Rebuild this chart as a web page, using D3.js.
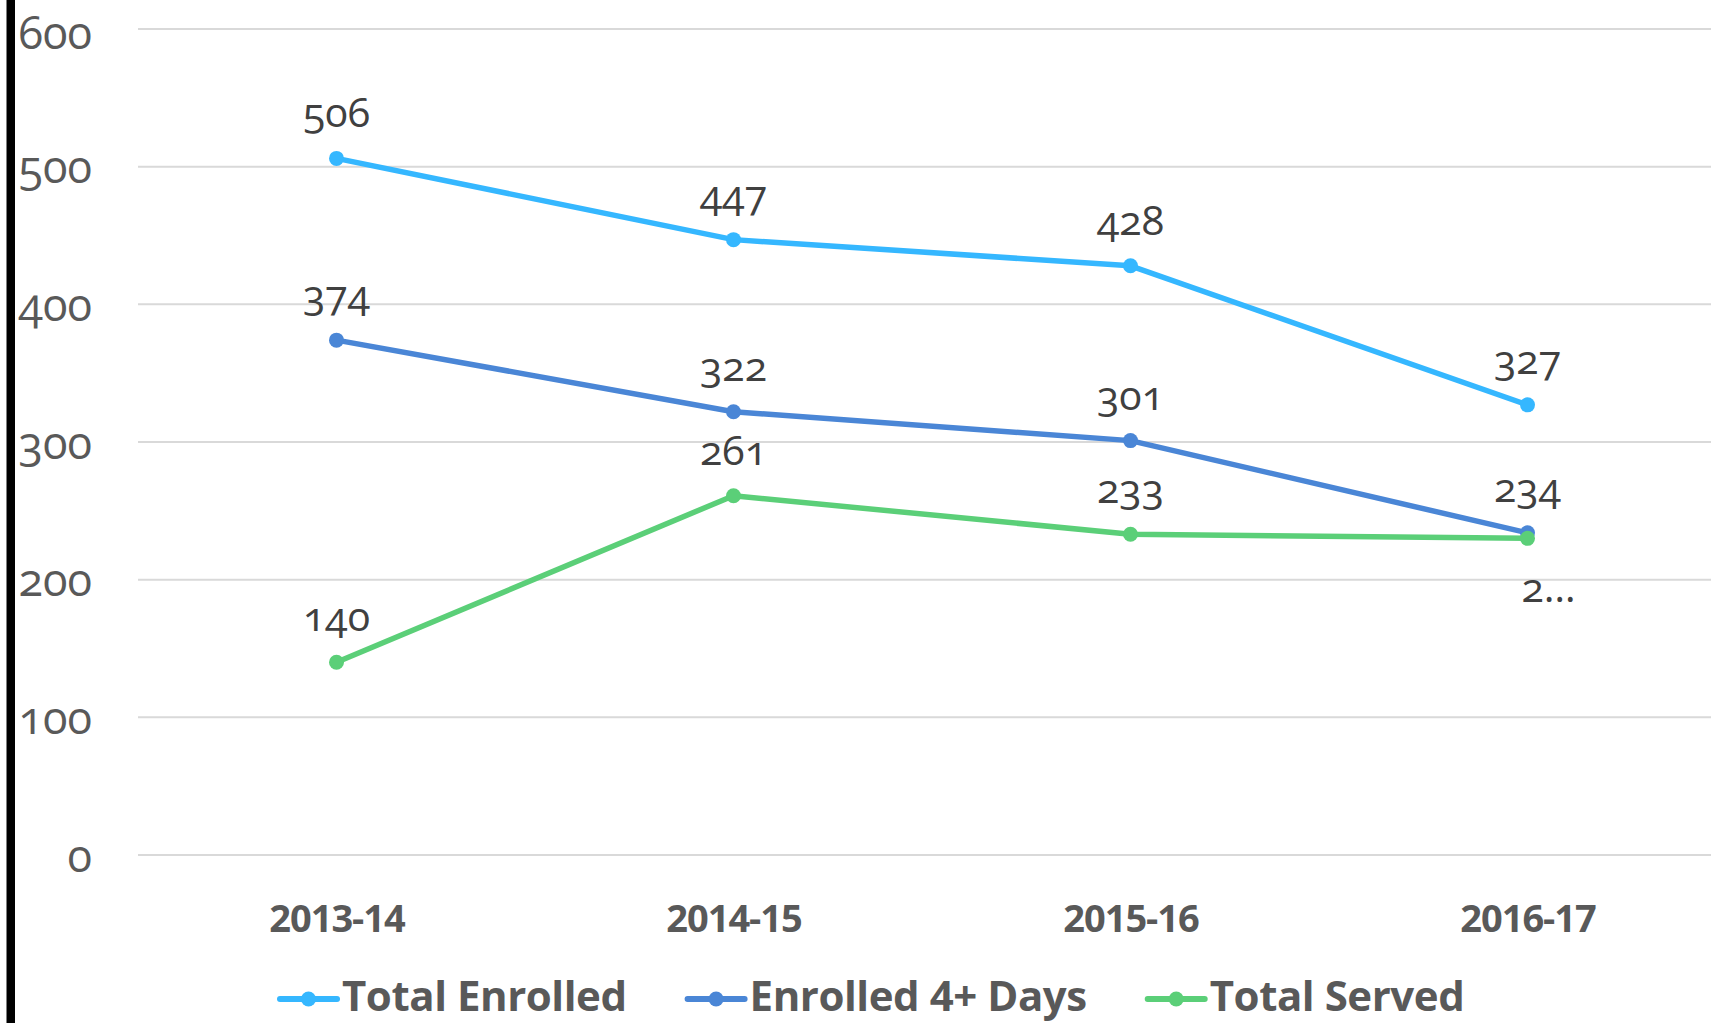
<!DOCTYPE html>
<html>
<head>
<meta charset="utf-8">
<script src="https://cdn.jsdelivr.net/npm/d3@7"></script>
<style>
  html, body { margin: 0; padding: 0; background: #fff; overflow: hidden; }
  svg { display: block; }
</style>
</head>
<body>
<svg id="chart" width="1711" height="1023"></svg>
<script>
// ---- data ----
const categories = ["2013-14", "2014-15", "2015-16", "2016-17"];
const seriesNames = ["Total Enrolled", "Enrolled 4+ Days", "Total Served"];
const totalEnrolled = [506, 447, 428, 327];
const enrolled4Days = [374, 322, 301, 234];
const totalServed = [140, 261, 233, 230];
const yTicks = [0, 100, 200, 300, 400, 500, 600];
const seriesColors = ["#35B7FF", "#4A86D6", "#5BCF78"];

const seriesValues = [totalEnrolled, enrolled4Days, totalServed];

// ---- layout ----
const W = 1711, H = 1023;
const plot = { left: 138, right: 1726, top: 29, bottom: 855 };

const svg = d3.select("#chart");

const x = d3.scalePoint().domain(categories).range([plot.left, plot.right]).padding(0.5);
const y = d3.scaleLinear().domain([0, 600]).range([plot.bottom, plot.top]);

// left black bar
svg.append("rect").attr("x", 6.5).attr("y", 0).attr("width", 8.5).attr("height", H).attr("fill", "#000");

// gridlines
svg.append("g").selectAll("line").data(yTicks).join("line")
  .attr("x1", plot.left).attr("x2", W)
  .attr("y1", d => y(d)).attr("y2", d => y(d))
  .attr("stroke", "#d9d9d9").attr("stroke-width", 2);

// y axis labels
const tickFs = 45;
const yAxis = d3.axisLeft(y).tickValues(yTicks).tickSize(0).tickPadding(0);
const gy = svg.append("g").attr("transform", "translate(92,0)").call(yAxis);
gy.select(".domain").remove();
gy.selectAll("text")
  .attr("font-family", "'Open Sans', sans-serif")
  .attr("font-size", tickFs)
  .attr("fill", "#595959")
  .attr("dy", d => Math.max(0.36 * tickFs, 1.075 * tickFs - y(d)))
  .style("font-variant-numeric", "oldstyle-nums");

// x axis labels
const xAxis = d3.axisBottom(x).tickSize(0).tickPadding(0);
const gx = svg.append("g").attr("transform", "translate(0,932)").call(xAxis);
gx.select(".domain").remove();
gx.selectAll("text")
  .attr("font-family", "'Open Sans', sans-serif")
  .attr("font-weight", 700)
  .attr("font-size", 38)
  .attr("fill", "#595959")
  .attr("dy", 0)
  .attr("letter-spacing", -1);

// lines
const line = d3.line().x((d, i) => x(categories[i])).y(d => y(d));
seriesValues.forEach((vals, si) => {
  const g = svg.append("g");
  g.append("path").datum(vals)
    .attr("d", line).attr("fill", "none")
    .attr("stroke", seriesColors[si]).attr("stroke-width", 5.5)
    .attr("stroke-linejoin", "round").attr("stroke-linecap", "round");
  g.selectAll("circle").data(vals).join("circle")
    .attr("cx", (d, i) => x(categories[i])).attr("cy", d => y(d))
    .attr("r", 7.5).attr("fill", seriesColors[si]);
});

// data labels
seriesValues.forEach((vals, si) => {
  svg.append("g").selectAll("text").data(vals).join("text")
    .attr("x", (d, i) => x(categories[i]))
    .attr("y", (d, i) => (si === 2 && i === 3) ? y(d) + 64 : y(d) - 31)
    .attr("text-anchor", (d, i) => (si === 2 && i === 3) ? "start" : "middle")
    .attr("dx", (d, i) => (si === 2 && i === 3) ? -6 : 0)
    .attr("font-family", "'Open Sans', sans-serif")
    .attr("font-size", 41)
    .attr("fill", "#404040")
    .style("font-variant-numeric", "oldstyle-nums")
    .text((d, i) => (si === 2 && i === 3) ? String(d)[0] + "…" : d);
});

// legend
const legend = svg.append("g").attr("transform", "translate(280,999)");
let lx = 0;
seriesNames.forEach((name, si) => {
  const item = legend.append("g").attr("transform", `translate(${lx},0)`);
  item.append("line").attr("x1", 0).attr("x2", 57).attr("y1", 0).attr("y2", 0)
    .attr("stroke", seriesColors[si]).attr("stroke-width", 6).attr("stroke-linecap", "round");
  item.append("circle").attr("cx", 28.5).attr("cy", 0).attr("r", 7.5).attr("fill", seriesColors[si]);
  const t = item.append("text").attr("x", 62).attr("y", 12)
    .attr("font-family", "'Open Sans', sans-serif")
    .attr("font-weight", 700).attr("font-size", 42)
    .attr("fill", "#595959").attr("letter-spacing", -0.45)
    .text(name);
  const w = t.node().getComputedTextLength();
  lx += 62 + w + 61;
});
</script>
</body>
</html>
